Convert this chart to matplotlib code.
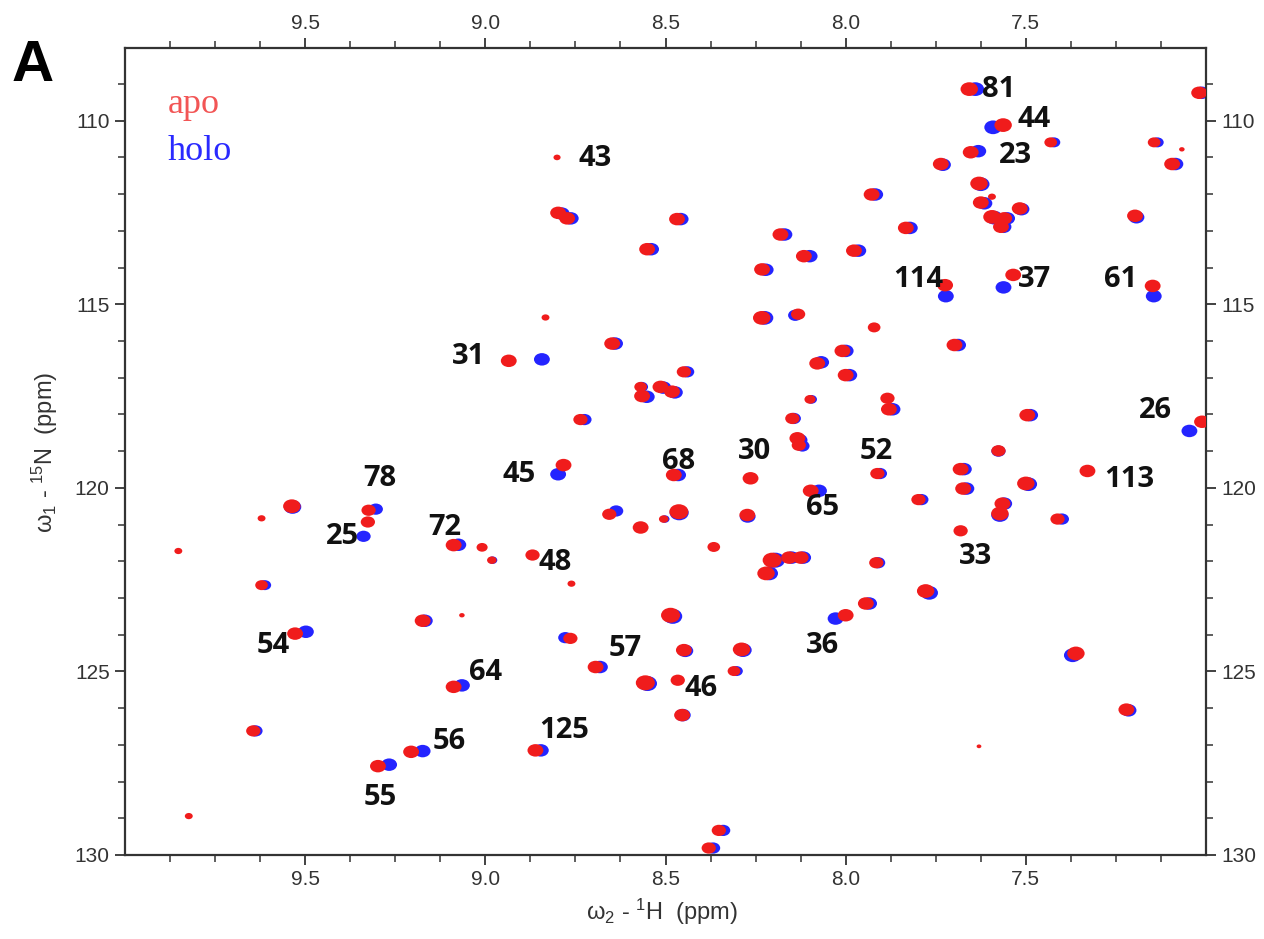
import numpy as np
import matplotlib
matplotlib.use("Agg")
import matplotlib.pyplot as plt
from matplotlib.patches import Ellipse
from matplotlib.ticker import FixedLocator

plt.rcParams['font.family'] = ['Liberation Sans', 'DejaVu Sans']
plt.rcParams['mathtext.fontset'] = 'custom'
plt.rcParams['mathtext.rm'] = 'Liberation Sans'
plt.rcParams['mathtext.it'] = 'Liberation Sans:italic'

# apo peaks (1H, 15N), holo peaks (nan = not seen), relative peak size
apo_h = [8.801, 8.798, 8.773, 8.468, 8.551, 8.181, 8.116, 8.232, 7.977, 8.833,
         8.233, 8.132, 8.935, 8.648, 8.009, 8.079, 8.000, 8.449, 8.569, 8.565,
         8.514, 8.482, 8.099, 8.736, 8.148, 8.134, 8.130, 7.657, 7.563, 7.431,
         7.653, 7.736, 7.144, 7.067, 7.094, 7.019, 7.928, 7.630, 7.625, 7.594,
         7.594, 7.560, 7.569, 7.517, 7.833, 7.197, 7.724, 7.535, 7.148, 7.921,
         7.698, 7.884, 7.880, 7.496, 7.011, 7.576, 7.912, 7.681, 7.674, 7.329,
         7.500, 7.565, 7.572, 7.798, 7.412, 7.681, 7.915, 7.778, 7.944, 8.000,
         7.361, 7.221, 7.630, 8.783, 8.477, 8.264, 8.097, 8.656, 8.463, 8.505,
         8.569, 8.273, 8.366, 9.009, 8.982, 8.869, 8.761, 8.204, 8.157, 8.125,
         8.221, 8.486, 8.764, 8.449, 8.289, 8.694, 8.310, 8.556, 8.466, 8.454,
         8.861, 8.352, 8.380, 9.537, 9.621, 9.852, 9.324, 9.326, 9.088, 9.621,
         9.065, 9.174, 9.528, 9.088, 9.644, 9.206, 9.298, 9.823]
apo_n = [111.00, 112.51, 112.66, 112.68, 113.50, 113.10, 113.69, 114.05, 113.54, 115.36,
         115.37, 115.27, 116.54, 116.07, 116.27, 116.61, 116.93, 116.84, 117.25, 117.50,
         117.25, 117.38, 117.59, 118.14, 118.11, 118.65, 118.84, 109.14, 110.12, 110.59,
         110.86, 111.18, 110.59, 110.78, 111.18, 109.24, 112.01, 111.71, 112.23, 112.07,
         112.62, 112.66, 112.89, 112.39, 112.92, 112.59, 114.48, 114.20, 114.50, 115.63,
         116.11, 117.56, 117.86, 118.02, 118.20, 118.99, 119.61, 119.49, 120.02, 119.54,
         119.88, 120.43, 120.70, 120.32, 120.85, 121.17, 122.04, 122.81, 123.15, 123.47,
         124.51, 126.04, 127.04, 119.38, 119.65, 119.74, 120.08, 120.72, 120.65, 120.85,
         121.08, 120.74, 121.61, 121.62, 121.97, 121.83, 122.61, 121.97, 121.90, 121.90,
         122.33, 123.47, 124.10, 124.42, 124.40, 124.88, 124.99, 125.31, 125.24, 126.19,
         127.15, 129.33, 129.81, 120.50, 120.83, 121.72, 120.61, 120.93, 121.56, 122.65,
         123.47, 123.62, 123.97, 125.42, 126.62, 127.19, 127.58, 128.94]
nan = np.nan
holo_h = [nan, 8.788, 8.763, 8.458, 8.540, 8.170, 8.100, 8.222, 7.965, nan,
          8.225, 8.140, 8.843, 8.640, 8.000, 8.068, 7.990, 8.440, 8.566, 8.552,
          8.506, 8.474, 8.095, 8.725, 8.144, 8.128, 8.120, 7.640, 7.591, 7.422,
          7.632, 7.730, 7.135, nan, 7.085, 7.012, 7.918, 7.625, 7.615, nan,
          7.588, 7.552, 7.562, 7.512, 7.822, 7.193, 7.722, 7.562, 7.145, nan,
          7.688, nan, 7.870, 7.488, 7.046, 7.576, 7.905, 7.672, 7.665, nan,
          7.493, 7.560, 7.572, 7.790, 7.400, nan, 7.910, 7.768, 7.935, 8.028,
          7.370, 7.215, nan, 8.798, 8.465, nan, 8.074, 8.637, 8.462, 8.502,
          nan, 8.272, nan, nan, 8.980, nan, nan, 8.195, 8.150, 8.118,
          8.212, 8.480, 8.778, 8.445, 8.285, 8.682, 8.303, 8.550, nan, 8.452,
          8.846, 8.340, 8.368, 9.535, nan, nan, 9.304, 9.338, 9.075, 9.612,
          nan, 9.168, 9.498, 9.065, 9.638, 9.174, 9.267, nan]
holo_n = [nan, 112.53, 112.66, 112.68, 113.50, 113.10, 113.69, 114.06, 113.54, nan,
          115.37, 115.30, 116.50, 116.07, 116.27, 116.58, 116.93, 116.84, 117.25, 117.52,
          117.27, 117.40, 117.59, 118.14, 118.11, 118.70, 118.86, 109.14, 110.18, 110.59,
          110.83, 111.20, 110.59, nan, 111.18, 109.24, 112.01, 111.73, 112.25, nan,
          112.64, 112.66, 112.89, 112.41, 112.92, 112.63, 114.78, 114.54, 114.78, nan,
          116.11, nan, 117.86, 118.02, 118.45, 119.00, 119.61, 119.49, 120.02, nan,
          119.90, 120.43, 120.74, 120.32, 120.85, nan, 122.04, 122.86, 123.15, 123.56,
          124.56, 126.06, nan, 119.63, 119.65, nan, 120.08, 120.63, 120.68, 120.85,
          nan, 120.78, nan, nan, 121.97, nan, nan, 121.97, 121.90, 121.90,
          122.33, 123.50, 124.08, 124.44, 124.42, 124.88, 124.99, 125.33, nan, 126.19,
          127.15, 129.33, 129.81, 120.52, nan, nan, 120.58, 121.32, 121.55, 122.65,
          nan, 123.62, 123.92, 125.38, 126.62, 127.17, 127.54, nan]
peak_size = [0.45, 1.0, 1.0, 1.0, 1.0, 1.0, 1.0, 1.0, 1.0, 0.5,
             1.1, 0.9, 1.0, 1.0, 1.0, 1.0, 1.0, 0.9, 0.8, 1.0,
             1.0, 1.0, 0.7, 0.9, 0.9, 1.0, 0.9, 1.1, 1.1, 0.8,
             1.0, 1.0, 0.8, 0.35, 1.0, 1.0, 1.0, 1.1, 1.0, 0.5,
             1.1, 1.0, 1.0, 1.0, 1.0, 1.0, 1.0, 1.0, 1.0, 0.8,
             1.0, 0.9, 1.0, 1.0, 1.0, 0.9, 0.9, 1.0, 1.0, 1.0,
             1.1, 1.0, 1.1, 0.9, 0.9, 0.9, 0.9, 1.1, 1.0, 1.0,
             1.1, 1.0, 0.3, 1.0, 1.0, 1.0, 1.0, 0.9, 1.2, 0.6,
             1.0, 1.0, 0.8, 0.7, 0.6, 0.9, 0.5, 1.2, 1.0, 1.0,
             1.1, 1.2, 0.9, 1.0, 1.1, 1.0, 0.8, 1.2, 0.9, 1.0,
             1.0, 0.9, 0.9, 1.1, 0.5, 0.5, 0.9, 0.9, 1.0, 0.8,
             0.35, 1.0, 1.0, 1.0, 0.9, 1.0, 1.0, 0.5]

# residue labels
label_text = ["81", "44", "23", "43", "114", "37", "61", "31", "26", "68",
              "30", "52", "45", "113", "78", "65", "25", "72", "33", "48",
              "54", "36", "57", "64", "46", "125", "56", "55"]
label_h = [7.576, 7.477, 7.530, 8.694, 7.799, 7.477, 7.236, 9.046, 7.141, 8.463,
           8.252, 7.915, 8.906, 7.212, 9.292, 8.063, 9.396, 9.113, 7.639, 8.806,
           9.588, 8.065, 8.611, 8.999, 8.400, 8.780, 9.100, 9.292]
label_n = [109.16, 109.98, 110.96, 111.02, 114.32, 114.32, 114.32, 116.43, 117.88, 119.29,
           119.02, 119.02, 119.63, 119.77, 119.74, 120.53, 121.32, 121.08, 121.88, 122.02,
           124.29, 124.29, 124.38, 125.04, 125.47, 126.60, 126.92, 128.44]

fig = plt.figure(figsize=(12.64, 9.39), dpi=100)
ax = fig.add_axes([125 / 1264, 1 - 855 / 939, 1081 / 1264, 807 / 939])

w0, h0 = 0.044, 0.34
for h, n, s in zip(holo_h, holo_n, peak_size):
    if not np.isnan(h):
        ax.add_patch(Ellipse((h, n), w0 * s, h0 * s, color="#2424ff", lw=0, zorder=2))
for h, n, s in zip(apo_h, apo_n, peak_size):
    ax.add_patch(Ellipse((h, n), w0 * s, h0 * s, color="#f01c1c", lw=0, zorder=3))

for t, h, n in zip(label_text, label_h, label_n):
    ax.text(h, n, t, ha="center", va="center", fontsize=21, fontweight="bold",
            family="Open Sans", color="#111111", zorder=4)

ax.set_xlim(10.0, 7.0)
ax.set_ylim(130, 108.02)
ax.xaxis.set_major_locator(FixedLocator([9.5, 9.0, 8.5, 8.0, 7.5]))
ax.xaxis.set_minor_locator(FixedLocator(np.arange(7.125, 10.0, 0.125)))
ax.yaxis.set_major_locator(FixedLocator([110, 115, 120, 125, 130]))
ax.yaxis.set_minor_locator(FixedLocator(np.arange(109, 130, 1)))
ax.xaxis.set_major_formatter(matplotlib.ticker.FormatStrFormatter("%.1f"))
ax.tick_params(which="both", direction="out", top=True, right=True,
               labeltop=True, labelright=True, labelsize=15, colors="#333333", pad=4)
ax.tick_params(which="major", length=7, width=1.3)
ax.tick_params(which="minor", length=5, width=1.1)
for sp in ax.spines.values():
    sp.set_linewidth(1.6)
    sp.set_color("#333333")

fig.text(662 / 1264, 1 - 912 / 939, "ω$_2$ - $^1$H  (ppm)", ha="center", va="center",
         fontsize=17, color="#333333")
fig.text(45 / 1264, 1 - 452 / 939, "ω$_1$ - $^{15}$N  (ppm)", ha="center", va="center",
         rotation=90, fontsize=17, color="#333333")

fig.text(168 / 1264, 1 - 113 / 939, "apo", color="#f25555", fontsize=26,
         family="Liberation Serif", va="baseline")
fig.text(168 / 1264, 1 - 160 / 939, "holo", color="#2a2aff", fontsize=26,
         family="Liberation Serif", va="baseline")
fig.text(33 / 1264, 1 - 66 / 939, "A", ha="center", va="center", fontsize=42,
         fontweight="bold", color="black")

fig.savefig("out.png", dpi=100)
